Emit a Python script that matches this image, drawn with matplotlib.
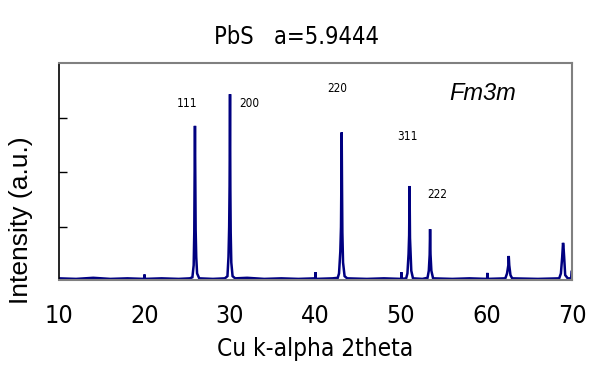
import matplotlib
matplotlib.use('Agg')
import matplotlib.pyplot as plt
from matplotlib import font_manager

# XRD pattern of PbS (2theta in degrees, intensity in a.u.)
two_theta = [10.0, 12.0, 14.0, 16.0, 18.0, 19.95, 20.0, 20.05, 22.0, 24.0, 25.3,
             25.6, 25.75, 25.82, 25.86, 25.9, 25.94, 25.98, 26.05, 26.15, 26.4,
             28.0, 29.4,
             29.7, 29.82, 29.9, 29.95, 30.0, 30.04, 30.08, 30.15, 30.3, 30.6,
             32.0, 34.0, 36.0, 38.0, 39.97, 40.0, 40.03, 42.0, 42.6,
             42.75, 42.9, 42.98, 43.02, 43.06, 43.1, 43.14, 43.22, 43.4, 43.7,
             46.0, 48.0, 50.02, 50.05, 50.08, 50.6,
             50.75, 50.88, 50.95, 51.0, 51.05, 51.1, 51.2, 51.4,
             52.5, 53.1,
             53.25, 53.35, 53.4, 53.45, 53.55, 53.75,
             56.0, 58.0, 60.07, 60.1, 60.13, 62.2,
             62.4, 62.55, 62.6, 62.66, 62.8, 63.0,
             66.0, 68.5,
             68.7, 68.85, 68.95, 69.0, 69.08, 69.2, 69.5,
             69.9, 69.95, 70.0]
intensity = [0.06, 0.05, 0.07, 0.05, 0.06, 0.05, 0.13, 0.05, 0.06, 0.05, 0.06,
             0.08, 0.3, 0.9, 1.95, 2.85, 1.9, 0.95, 0.45, 0.15, 0.06,
             0.05, 0.06,
             0.1, 0.45, 1.0, 1.75, 3.43, 1.7, 0.9, 0.35, 0.1, 0.06,
             0.07, 0.05, 0.06, 0.05, 0.06, 0.17, 0.05, 0.06, 0.07,
             0.15, 0.55, 1.0, 1.78, 2.73, 1.75, 0.9, 0.35, 0.1, 0.06,
             0.05, 0.06, 0.05, 0.17, 0.05, 0.06,
             0.15, 0.5, 0.85, 1.75, 0.8, 0.6, 0.2, 0.06,
             0.05, 0.07,
             0.2, 0.49, 0.96, 0.5, 0.2, 0.06,
             0.05, 0.06, 0.05, 0.16, 0.05, 0.06,
             0.15, 0.3, 0.47, 0.3, 0.12, 0.06,
             0.05, 0.06,
             0.15, 0.45, 0.71, 0.65, 0.45, 0.12, 0.06,
             0.06, 0.18, 0.18]

# Miller index labels and where they sit
hkl_labels = ['111', '200', '220', '311', '222']
label_x = [25.0, 32.3, 42.55, 50.7, 54.2]
label_y = [3.25, 3.25, 3.53, 2.65, 1.6]

x_ticks = [10, 20, 30, 40, 50, 60, 70]
y_ticks = [1, 2, 3]


def narrow(size, **kw):
    # condensed DejaVu stands in for the Arial Narrow look of the original
    return font_manager.FontProperties(family='DejaVu Sans', stretch='condensed', size=size, **kw)


wide = ['Liberation Sans', 'DejaVu Sans']

fig = plt.figure(figsize=(6.16, 3.87), dpi=100)
ax = fig.add_axes([0.0958, 0.2765, 0.8328, 0.5607])

ax.plot(two_theta, intensity, color='#000080', linewidth=1.8, solid_joinstyle='miter')

for lab, lx, ly in zip(hkl_labels, label_x, label_y):
    ax.text(lx, ly, lab, ha='center', va='center', fontproperties=narrow(8.5))

ax.text(59.6, 3.45, 'Fm3m', ha='center', va='center', fontsize=17,
        style='italic', family=wide)

ax.set_xlim(10, 70)
ax.set_ylim(0.03, 4.0)
ax.set_xticks(x_ticks)
ax.set_xticklabels([str(t) for t in x_ticks], fontproperties=narrow(18))
ax.set_yticks(y_ticks)
ax.set_yticklabels([])
ax.tick_params(axis='x', length=0, pad=17)
ax.tick_params(axis='y', direction='in', length=6, width=1, color='black')

for side in ['top', 'right', 'bottom']:
    ax.spines[side].set_color('#808080')
    ax.spines[side].set_linewidth(1.5)
ax.spines['left'].set_color('black')
ax.spines['left'].set_linewidth(1.2)

ax.set_xlabel('Cu k-alpha 2theta', fontproperties=narrow(17.5), labelpad=7)
fig.text(0.034, 0.43, 'Intensity (a.u.)', rotation=90, ha='center', va='center',
         fontsize=19, family=wide)
fig.text(0.482, 0.905, 'PbS   a=5.9444', ha='center', va='center',
         fontproperties=narrow(17))

fig.savefig('out.png', dpi=100)
